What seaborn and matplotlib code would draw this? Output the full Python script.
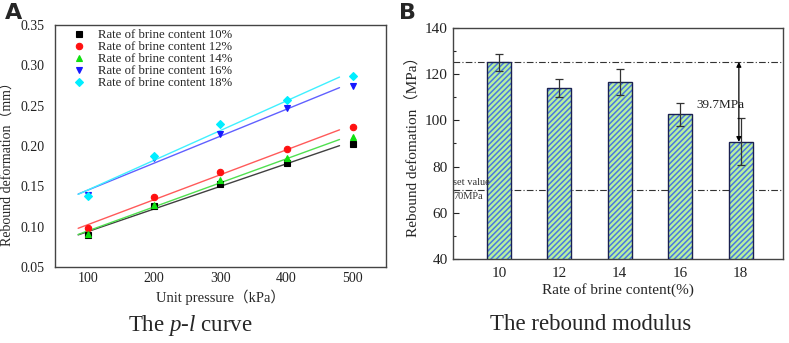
import numpy as np
import pandas as pd
import matplotlib
matplotlib.use("Agg")
import matplotlib.pyplot as plt
from matplotlib.patches import Rectangle
from matplotlib.ticker import MultipleLocator
import seaborn as sns

# ---------------- data ----------------
pressure = [100, 200, 300, 400, 500]
series_names = ["Rate of brine content 10%", "Rate of brine content 12%",
                "Rate of brine content 14%", "Rate of brine content 16%",
                "Rate of brine content 18%"]
defo_10 = [0.090, 0.125, 0.153, 0.179, 0.203]
defo_12 = [0.098, 0.137, 0.168, 0.196, 0.223]
defo_14 = [0.091, 0.127, 0.158, 0.185, 0.211]
defo_16 = [0.139, 0.185, 0.215, 0.247, 0.275]
defo_18 = [0.138, 0.187, 0.227, 0.257, 0.287]

brine_rate = ["10", "12", "14", "16", "18"]
modulus = [125.2, 114.0, 116.6, 102.6, 90.7]
modulus_err = [3.7, 4.0, 5.8, 5.0, 10.2]
ref_max = 125.3
set_value = 70
diff_label = "39.7MPa"

# ---------------- style ----------------
sns.set_theme(style="white")
plt.rcParams['font.family'] = ['Liberation Serif', 'Noto Sans CJK SC', 'DejaVu Sans']
plt.rcParams['mathtext.fontset'] = 'custom'
plt.rcParams['mathtext.rm'] = 'Liberation Serif'
plt.rcParams['mathtext.it'] = 'Liberation Serif:italic'
plt.rcParams['hatch.linewidth'] = 1.1
plt.rcParams['xtick.direction'] = 'in'
plt.rcParams['ytick.direction'] = 'in'

fig = plt.figure(figsize=(7.89, 3.43), dpi=100)
axA = fig.add_axes([0.0697, 0.2216, 0.4193, 0.7055])
axB = fig.add_axes([0.574, 0.2449, 0.4184, 0.6735])

# ---------------- panel A ----------------
all_vals = [defo_10, defo_12, defo_14, defo_16, defo_18]
df = pd.DataFrame({
    "pressure": pressure * 5,
    "defo": sum(all_vals, []),
    "series": sum([[n] * len(pressure) for n in series_names], []),
})
marker_colors = ["#000000", "#ff1010", "#10e010", "#1818ff", "#00eeff"]
line_colors = ["#404040", "#ff5a5a", "#50e050", "#6060ff", "#40f0ff"]
markers = ["s", "o", "^", "v", "D"]

xfit = np.array([85, 480])
for vals, lc in zip(all_vals, line_colors):
    k, b = np.polyfit(pressure, vals, 1)
    sns.lineplot(x=xfit, y=k * xfit + b, ax=axA, color=lc, lw=1.0)

for name, mc, mk in zip(series_names, marker_colors, markers):
    sub = df[df.series == name]
    axA.plot(sub.pressure, sub.defo, linestyle="none", marker=mk, ms=4.6 if mk != "D" else 4.2,
             mfc=mc, mec=mc, mew=0.8, label=name, zorder=5)

axA.set_xlim(50, 550)
axA.set_ylim(0.05, 0.35)
axA.xaxis.set_major_locator(MultipleLocator(100))
axA.xaxis.set_minor_locator(MultipleLocator(50))
axA.yaxis.set_major_locator(MultipleLocator(0.05))
axA.yaxis.set_minor_locator(MultipleLocator(0.025))
axA.yaxis.set_major_formatter(matplotlib.ticker.FormatStrFormatter('%.2f'))
axA.tick_params(which='major', length=4, width=0.8, labelsize=10, colors='#222222')
axA.tick_params(which='minor', length=2.5, width=0.8)
axA.tick_params(axis='y', which='both', direction='out')
for s in axA.spines.values():
    s.set_color('#444444')
    s.set_linewidth(1.0)
axA.set_xlabel("Unit pressure（kPa）", fontsize=10.5, labelpad=3)
axA.set_ylabel("Rebound deformation（mm）", fontsize=10)
axA.yaxis.set_label_coords(-0.122, 0.44)
leg = axA.legend(loc="upper left", bbox_to_anchor=(0.03, 1.015), frameon=False,
                 fontsize=9.2, handlelength=1.0, handletextpad=1.0,
                 labelspacing=0.0, borderaxespad=0.2)

# ---------------- panel B ----------------
dfb = pd.DataFrame({"rate": brine_rate, "modulus": modulus})
sns.barplot(data=dfb, x="rate", y="modulus", ax=axB, color="#b8f0a0",
            width=0.4, saturation=1, errorbar=None, edgecolor="#4a78e0",
            linewidth=0, hatch="//////", zorder=2)
for p in list(axB.patches):
    axB.add_patch(Rectangle((p.get_x(), p.get_y()), p.get_width(), p.get_height(),
                            fill=False, edgecolor="#1a2050", lw=1.0, zorder=3))
axB.errorbar(range(len(brine_rate)), modulus, yerr=modulus_err, fmt="none",
             ecolor="#333333", elinewidth=0.9, capsize=2.6, capthick=0.9, zorder=4)

axB.axhline(ref_max, color="#333333", lw=0.8, ls=(0, (6, 2, 1, 2)), zorder=1)
axB.axhline(set_value, color="#333333", lw=0.8, ls=(0, (6, 2, 1, 2)), zorder=1)
axB.annotate("", xy=(3.97, modulus[4]), xytext=(3.97, ref_max),
             arrowprops=dict(arrowstyle="<|-|>", color="black", lw=0.9,
                             mutation_scale=7, shrinkA=0, shrinkB=0), zorder=5)
axB.text(3.27, 106.7, diff_label, fontsize=9.5, va="center", ha="left", color="#222222")
axB.text(-0.76, set_value + 1.2, "set value", fontsize=7.5, va="bottom", ha="left", color="#333333")
axB.text(-0.76, set_value - 1.0, "70MPa", fontsize=7.5, va="top", ha="left", color="#333333")

axB.set_xlim(-0.76, 4.70)
axB.set_ylim(40, 140)
axB.yaxis.set_major_locator(MultipleLocator(20))
axB.yaxis.set_minor_locator(MultipleLocator(10))
axB.tick_params(axis='x', which='both', length=0, labelsize=11, colors='#222222', pad=6)
axB.tick_params(axis='y', which='major', length=4, width=0.8, labelsize=11, colors='#222222', left=True)
axB.tick_params(axis='y', which='minor', length=2.5, width=0.8, left=True)
for s in axB.spines.values():
    s.set_color('#444444')
    s.set_linewidth(1.0)
axB.set_xlabel("Rate of brine content(%)", fontsize=11, labelpad=2)
axB.set_ylabel("Rebound defomation（MPa）", fontsize=11, labelpad=4)

# ---------------- panel letters & captions ----------------
fig.text(0.006, 0.99, "A", fontsize=16, fontweight="bold", family="DejaVu Sans", va="top")
fig.text(0.506, 0.99, "B", fontsize=16, fontweight="bold", family="DejaVu Sans", va="top")
fig.text(190 / 789, 1 - 325 / 343, "The $p$-$l$ curve", fontsize=16.5, ha="center", va="center")
fig.text(591 / 789, 1 - 325 / 343, "The rebound modulus", fontsize=16.5, ha="center", va="center")

fig.savefig("out.png", dpi=100)
